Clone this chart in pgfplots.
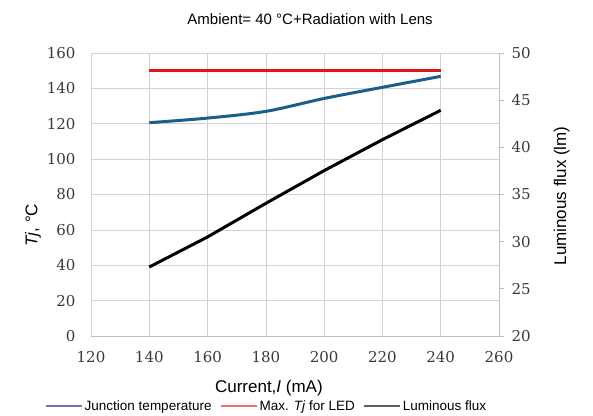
\documentclass[border=0pt]{standalone}
\usepackage{pgfplots}
\pgfplotsset{compat=1.18}
\usepackage{fontspec}
\setmainfont{Liberation Sans}
\newfontfamily\tickfont{DejaVu Serif}

\definecolor{redline}{HTML}{E3131B}
\definecolor{blueline}{HTML}{1B5E8C}
\definecolor{legblue}{HTML}{7373B5}
\definecolor{legred}{HTML}{EE6E6E}
\definecolor{leggray}{HTML}{606060}
\definecolor{ticktext}{HTML}{3A3A3A}
\definecolor{axisgray}{HTML}{BFBFBF}

\begin{document}
\begin{tikzpicture}
\path[use as bounding box] (0,0) rectangle (593bp,416bp);
\begin{axis}[
  at={(91bp,80bp)}, anchor=south west,
  scale only axis, width=408bp, height=283bp,
  xmin=120, xmax=260, ymin=0, ymax=160,
  xtick={120,140,...,260}, ytick={0,20,...,160},
  /pgf/number format/assume math mode=true,
  grid=major, grid style={axisgray!70, line width=0.6pt},
  axis x line*=bottom, axis y line*=left,
  x axis line style={axisgray, line width=0.8pt, -},
  y axis line style={draw=none, -},
  tick style={draw=none},
  ticklabel style={font=\tickfont\fontsize{15bp}{18bp}\selectfont, text=ticktext},
  xticklabel style={yshift=-12bp},
  yticklabel style={xshift=-12bp},
  title={Ambient= 40 °C+Radiation with Lens},
  title style={at={(rel axis cs:0.537,1.099)}, anchor=center, font=\fontsize{15bp}{18bp}\selectfont},
  xlabel={Current,\textit{I} (mA)},
  xlabel style={at={(rel axis cs:0.436,-0.184)}, anchor=center, font=\fontsize{17bp}{20bp}\selectfont},
  ylabel={\textit{Tj}, °C},
  ylabel style={at={(rel axis cs:-0.142,0.392)}, anchor=center, rotate=0, font=\fontsize{17bp}{20bp}\selectfont},
  legend style={at={(rel axis cs:0.43,-0.248)}, anchor=center, draw=none, fill=none,
    legend columns=-1, font=\fontsize{13.5bp}{16bp}\selectfont, inner sep=0pt,
    /tikz/every even column/.append style={column sep=6bp}},
  legend image code/.code={\draw[#1] (0bp,0bp) -- (36bp,0bp);},
]
\addplot[redline, line width=3bp, forget plot] coordinates {(140,150) (240,150)};
\addplot[blueline, line width=3bp, smooth, forget plot] coordinates {
  (140,120.6) (160,123.2) (180,127) (200,134.3) (220,140.6) (240,146.8)};
\addplot[black, line width=3bp, forget plot] coordinates {
  (140,39) (160,56) (180,75) (200,93.5) (220,111) (240,127.6)};
\addlegendimage{legblue, line width=2bp}
\addlegendentry{Junction temperature}
\addlegendimage{legred, line width=2bp}
\addlegendentry{Max. \textit{Tj} for LED}
\addlegendimage{leggray, line width=2bp}
\addlegendentry{Luminous flux}
\end{axis}
\begin{axis}[
  at={(91bp,80bp)}, anchor=south west,
  scale only axis, width=408bp, height=283bp,
  xmin=120, xmax=260, ymin=20, ymax=50,
  ytick={20,25,...,50},
  /pgf/number format/assume math mode=true,
  axis y line*=right, axis x line=none,
  y axis line style={axisgray, line width=0.8pt, -},
  ytick style={axisgray, line width=0.8pt},
  tick align=outside, major tick length=5bp,
  ticklabel style={font=\tickfont\fontsize{15bp}{18bp}\selectfont, text=ticktext},
  yticklabel style={xshift=4bp},
  ylabel={Luminous flux (lm)},
  ylabel style={at={(rel axis cs:1.154,0.495)}, anchor=center, rotate=0, font=\fontsize{17bp}{20bp}\selectfont},
]
\end{axis}
\end{tikzpicture}
\end{document}
